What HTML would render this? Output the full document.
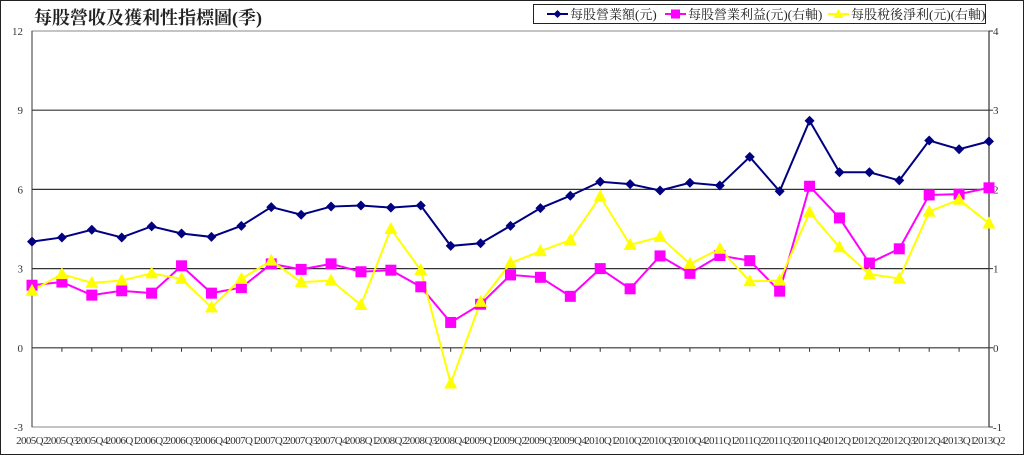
<!DOCTYPE html>
<html><head><meta charset="utf-8"><style>
html,body{margin:0;padding:0;background:#fff;}
svg{display:block;font-family:"Liberation Serif","Noto Serif CJK SC",serif;}
</style></head><body>
<svg id="chart" width="1024" height="455" viewBox="0 0 1024 455" xmlns="http://www.w3.org/2000/svg">
<rect x="0.5" y="0.5" width="1023" height="454" fill="#fff" stroke="#222"/>
<text x="34" y="24" font-size="18" font-weight="bold" fill="#222">每股營收及獲利性指標圖(季)</text>
<g id="grid"></g>
<rect x="32" y="31" width="957" height="396" fill="none" stroke="#888"/>
<g id="axes"></g>
<g id="series"></g>
<g>
<rect x="533.5" y="4.5" width="452" height="19" fill="#fff" stroke="#222"/>
<g>
<line x1="547" y1="14" x2="568" y2="14" stroke="#000080" stroke-width="2"/><polygon points="557.5,10 561.5,14 557.5,18 553.5,14" fill="#000080"/>
<text x="570" y="19" font-size="13" fill="#222">每股營業額(元)</text></g>
<g>
<line x1="665" y1="14" x2="686" y2="14" stroke="#ff00ff" stroke-width="2"/><rect x="671" y="9.5" width="9" height="9" fill="#ff00ff"/>
<text x="688" y="19" font-size="13" fill="#222">每股營業利益(元)(右軸)</text></g>
<g>
<line x1="828" y1="14" x2="849" y2="14" stroke="#ffff00" stroke-width="2"/><polygon points="838.5,9 843.5,18 833.5,18" fill="#ffff00"/>
<text x="851" y="19" font-size="13" fill="#222">每股稅後淨利(元)(右軸)</text></g>
</g>
</svg>
<script>
const categories=["2005Q2","2005Q3","2005Q4","2006Q1","2006Q2","2006Q3","2006Q4","2007Q1","2007Q2","2007Q3","2007Q4","2008Q1","2008Q2","2008Q3","2008Q4","2009Q1","2009Q2","2009Q3","2009Q4","2010Q1","2010Q2","2010Q3","2010Q4","2011Q1","2011Q2","2011Q3","2011Q4","2012Q1","2012Q2","2012Q3","2012Q4","2013Q1","2013Q2"];
const revenue=[4.02,4.18,4.47,4.18,4.6,4.33,4.2,4.62,5.33,5.04,5.35,5.39,5.31,5.39,3.86,3.96,4.62,5.29,5.76,6.29,6.2,5.96,6.25,6.15,7.23,5.93,8.6,6.65,6.65,6.34,7.85,7.52,7.82];
const opProfit=[0.79,0.83,0.665,0.72,0.69,1.035,0.69,0.76,1.06,0.99,1.06,0.96,0.98,0.77,0.32,0.55,0.92,0.89,0.65,1.0,0.745,1.16,0.94,1.165,1.1,0.715,2.04,1.64,1.07,1.25,1.93,1.94,2.02];
const netProfit=[0.72,0.93,0.82,0.85,0.94,0.87,0.51,0.87,1.1,0.83,0.85,0.54,1.5,0.98,-0.45,0.58,1.07,1.22,1.36,1.91,1.3,1.4,1.06,1.25,0.84,0.85,1.71,1.27,0.93,0.875,1.72,1.87,1.57];
const leftTicks=[-3,0,3,6,9,12];
const rightTicks=[-1,0,1,2,3,4];
const X0=32,X1=989,YT=31,YB=427;
function x(i){return X0+(X1-X0)*i/(categories.length-1);}
function yL(v){return YB-(v-(-3))/15*(YB-YT);}
function yR(v){return YB-(v-(-1))/5*(YB-YT);}
const NS="http://www.w3.org/2000/svg";
function mk(tag,attrs,parent){const e=document.createElementNS(NS,tag);for(const k in attrs)e.setAttribute(k,attrs[k]);parent.appendChild(e);return e;}
const grid=document.getElementById('grid'),axes=document.getElementById('axes'),ser=document.getElementById('series');
leftTicks.forEach(t=>{
  if(t!==-3&&t!==12){const g=mk('line',{x1:X0,x2:X1,y1:yL(t),y2:yL(t),stroke:'#333','stroke-width':1.2},grid);
  
  }
  const tx=mk('text',{x:23,y:yL(t)+4,'font-size':11,'text-anchor':'end',fill:'#333'},axes);tx.textContent=t;
  
  
});
rightTicks.forEach(t=>{
  const tx=mk('text',{x:993,y:yR(t)+4,'font-size':11,fill:'#333'},axes);tx.textContent=t;
  
  
  mk('line',{x1:X1,x2:X1+4,y1:yR(t),y2:yR(t),stroke:'#333'},axes);
});
mk('line',{x1:X1,x2:X1,y1:YT,y2:YB,stroke:'#333','stroke-width':1.2},axes);
mk('line',{x1:X0,x2:X0,y1:YT,y2:YB,stroke:'#333'},axes);
categories.forEach((c,i)=>{
  mk('line',{x1:x(i),x2:x(i),y1:yL(0),y2:yL(0)+4,stroke:'#333'},axes);
  const tx=mk('text',{x:x(i),y:444,'font-size':11,'text-anchor':'middle',fill:'#333','letter-spacing':'-0.6'},axes);tx.textContent=c;
  
  
});
function line(vals,fy,color,name){
  const p=mk('polyline',{points:vals.map((v,i)=>x(i)+','+fy(v)).join(' '),fill:'none',stroke:color,'stroke-width':2},ser);
  
  
}
line(opProfit,yR,'#ff00ff','op-profit');
line(netProfit,yR,'#ffff00','net-profit');
line(revenue,yL,'#000080','revenue');
opProfit.forEach((v,i)=>{const m=mk('rect',{x:x(i)-5.5,y:yR(v)-5.5,width:11,height:11,fill:'#ff00ff'},ser);
  
  });
netProfit.forEach((v,i)=>{const cx=x(i),cy=yR(v);const m=mk('polygon',{points:`${cx},${cy-7} ${cx+6.5},${cy+5} ${cx-6.5},${cy+5}`,fill:'#ffff00'},ser);
  
  });
revenue.forEach((v,i)=>{const cx=x(i),cy=yL(v);const m=mk('polygon',{points:`${cx},${cy-5} ${cx+5},${cy} ${cx},${cy+5} ${cx-5},${cy}`,fill:'#000080'},ser);
  
  });
</script>
</body></html>
